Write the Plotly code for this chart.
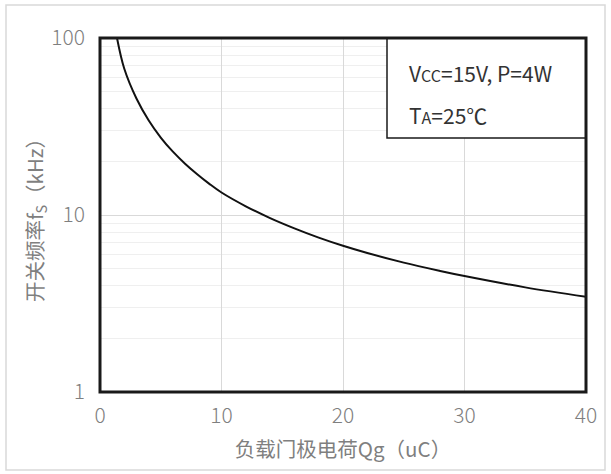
import plotly.graph_objects as go

# Gate charge Qg (uC) vs switching frequency fs (kHz), Vcc=15V, P=4W, TA=25°C
qg = [1.4, 2, 3, 4, 5, 6, 7, 8, 9, 10, 12, 14, 16, 18, 20, 22, 25, 28, 30, 35, 40]
fs = [100, 67, 45.5, 34.3, 27.4, 22.8, 19.5, 17.0, 15.0, 13.4, 11.2, 9.6, 8.4, 7.45, 6.7, 6.1, 5.38, 4.83, 4.52, 3.9, 3.45]

x_ticks = [0, 10, 20, 30, 40]
y_ticks = [1, 10, 100]
y_tick_text = ["1", "10", "100"]

cjk = "Noto Sans CJK SC"
grey = "#7f7f7f"

W, H = 611, 474
L, R, T, B = 100, 25, 38, 82
pw, ph = W - L - R, H - T - B


def px_x(p):
    return (p - L) / pw


def px_y(p):
    return (H - B - p) / ph


fig = go.Figure()
fig.add_trace(go.Scatter(
    x=qg, y=fs, mode="lines",
    line=dict(color="#111111", width=2, shape="spline", smoothing=1.0),
    showlegend=False, hoverinfo="skip",
))

fig.update_layout(
    width=W, height=H,
    margin=dict(l=L, r=R, t=T, b=B),
    paper_bgcolor="white", plot_bgcolor="white",
    font=dict(family=cjk, color=grey),
    xaxis=dict(
        range=[0, 40], tickvals=x_ticks, ticks="",
        showgrid=True, gridcolor="#d9d9d9", gridwidth=1,
        showline=False, zeroline=False,
        tickfont=dict(size=21, color=grey, family=cjk, weight=300),
        ticklabelstandoff=9,
        title=dict(text="负载门极电荷Qg（uC）", font=dict(size=20.5, color=grey, family=cjk), standoff=14),
    ),
    yaxis=dict(
        type="log", range=[0, 2], tickvals=y_ticks, ticktext=y_tick_text, ticks="",
        showgrid=True, gridcolor="#d9d9d9", gridwidth=1,
        minor=dict(dtick="D1", showgrid=True, gridcolor="#efefef", gridwidth=1, ticks=""),
        showline=False, zeroline=False,
        tickfont=dict(size=21, color=grey, family=cjk, weight=300),
        ticklabelstandoff=14,
        title=dict(text="开关频率f<sub>S</sub>（kHz）", font=dict(size=20.5, color=grey, family=cjk), standoff=2),
    ),
    shapes=[
        # outer frame of the figure
        dict(type="rect", xref="paper", yref="paper",
             x0=px_x(6), x1=px_x(605), y0=px_y(470), y1=px_y(5),
             line=dict(color="#d9d9d9", width=1.5), fillcolor="rgba(0,0,0,0)", layer="above"),
        # condition box
        dict(type="rect", xref="paper", yref="paper",
             x0=px_x(387), x1=1, y0=px_y(138), y1=1,
             line=dict(color="#1a1a1a", width=1.5), fillcolor="white", layer="above"),
        # plot frame
        dict(type="rect", xref="paper", yref="paper",
             x0=0, x1=1, y0=0, y1=1,
             line=dict(color="#1a1a1a", width=3), fillcolor="rgba(0,0,0,0)", layer="above"),
    ],
    annotations=[
        dict(xref="paper", yref="paper", x=px_x(407), y=px_y(73), xanchor="left", yanchor="middle",
             text="V<span style='font-size:16px'>CC</span>=15V, P=4W", showarrow=False,
             font=dict(size=21, color="#333333", family=cjk)),
        dict(xref="paper", yref="paper", x=px_x(407), y=px_y(115), xanchor="left", yanchor="middle",
             text="T<span style='font-size:16px'>A</span>=25℃", showarrow=False,
             font=dict(size=21, color="#333333", family=cjk)),
    ],
)

fig.write_html("out.html")
